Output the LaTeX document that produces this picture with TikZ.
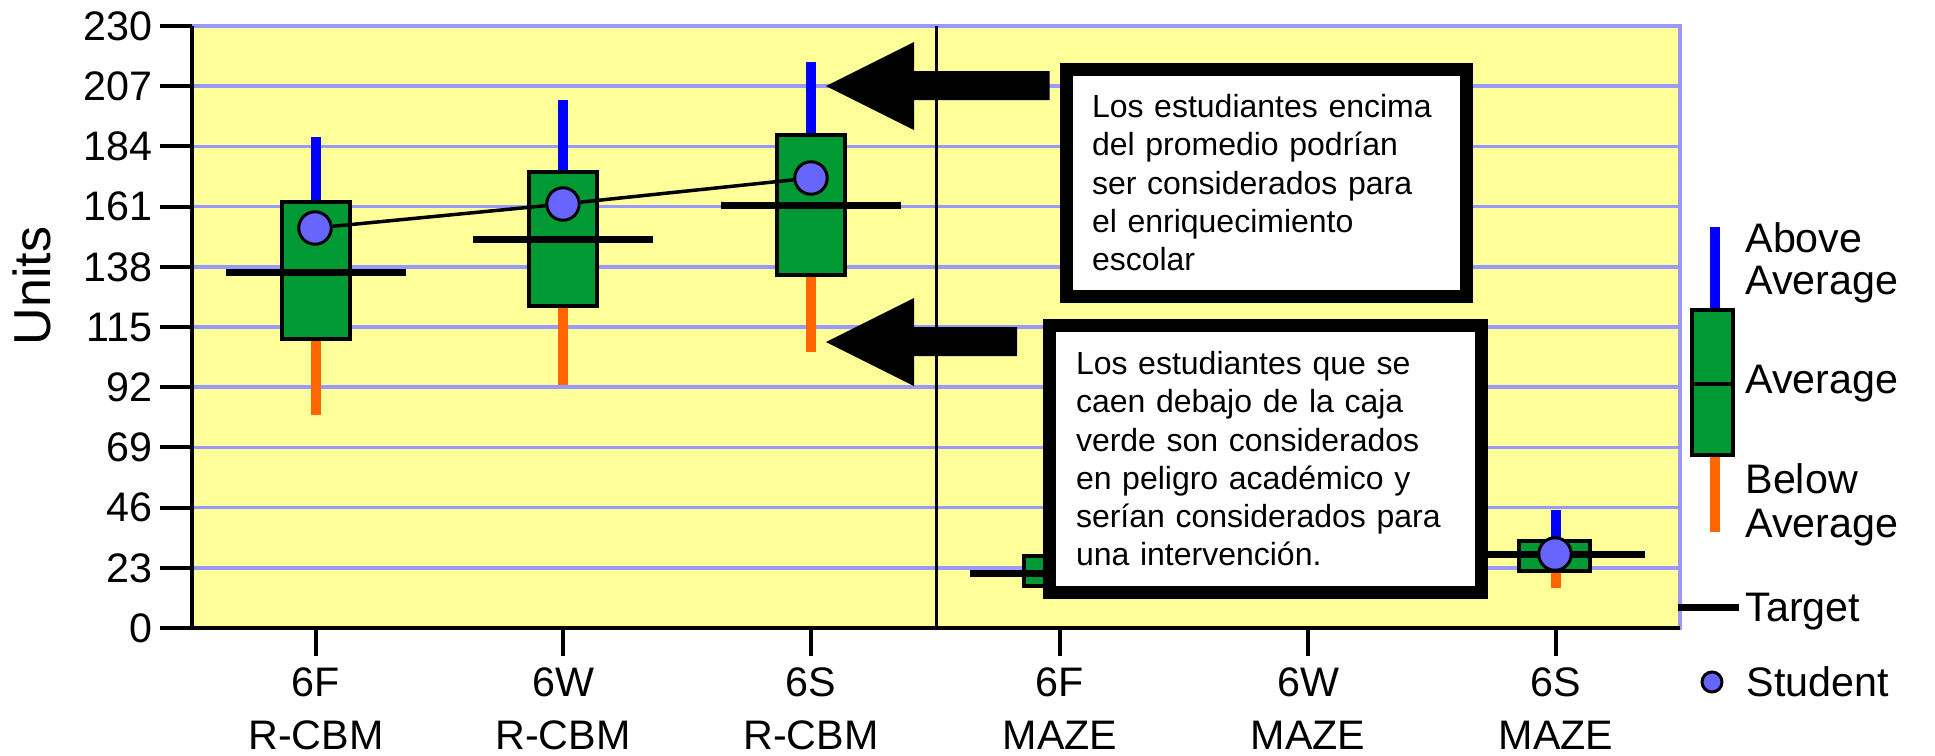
\documentclass[tikz,border=0pt]{standalone}
\usepackage{fontspec}
\setmainfont{Liberation Sans}
\usepackage{xcolor}
\usepackage{pgf,tikz}
\usetikzlibrary{shapes}
\tikzset{
  font={\fontsize{16.5pt}{21.2pt}\selectfont}}

\definecolor{plotbg}{RGB}{255,255,153}
\definecolor{gridblue}{RGB}{153,153,255}
\definecolor{boxgreen}{RGB}{0,153,51}
\definecolor{abovecol}{RGB}{0,0,255}
\definecolor{belowcol}{RGB}{255,102,0}
\definecolor{studentcol}{RGB}{102,102,255}

\begin{document}
\begin{tikzpicture}[x=0.4pt, y=-0.4pt]

    \tikzset{gridline/.style = {gridblue, line width=1.4pt}}
    \tikzset{axisline/.style = {black, line width=1.6pt}}
    \tikzset{abovebar/.style = {abovecol, line width=4pt}}
    \tikzset{belowbar/.style = {belowcol, line width=4pt}}
    \tikzset{avgbox/.style = {fill=boxgreen, draw=black, line width=1.6pt}}
    \tikzset{targetline/.style = {black, line width=2.8pt}}
    \tikzset{trend/.style = {black, line width=1.4pt}}
    \tikzset{student/.style = {circle, fill=studentcol, draw=black, line width=1.2pt, minimum size=13pt, inner sep=0pt}}
    \tikzset{note/.style = {draw=black, fill=white, line width=5.2pt, outer sep=0pt, anchor=north west, align=left,
      font={\fontsize{12.8pt}{15.3pt}\selectfont}}}
    \tikzset{label/.style = {inner sep=0pt}}

    \useasboundingbox (0,0) rectangle (1935,755);

    % plot area
    \fill[plotbg] (192,26) rectangle (1680,628);
    \foreach \k in {1,...,10} {
      \pgfmathsetmacro{\yy}{628-60.2*\k}
      \draw[gridline] (190,\yy) -- (1682,\yy);
    }
    \draw[gridblue, line width=1.6pt] (1680,24) -- (1680,630);
    \draw[black, line width=1.2pt] (936,26) -- (936,628);

    % 6F R-CBM
    \draw[abovebar] (316,137) -- (316,202);
    \draw[belowbar] (316,339) -- (316,415);
    \draw[avgbox] (282,202) rectangle (350,339);
    \draw[targetline] (226,272) -- (406,272);
    \node[student] (stuA) at (315,228) {};
    % 6W R-CBM
    \draw[abovebar] (563,100) -- (563,172);
    \draw[belowbar] (563,306) -- (563,385);
    \draw[avgbox] (529,172) rectangle (597,306);
    \draw[targetline] (473,239) -- (653,239);
    \node[student] (stuB) at (563,204) {};
    % 6S R-CBM
    \draw[abovebar] (811,62) -- (811,135);
    \draw[belowbar] (811,275) -- (811,352);
    \draw[avgbox] (777,135) rectangle (845,275);
    \draw[targetline] (721,205) -- (901,205);
    \node[student] (stuC) at (811,178) {};
    % 6F MAZE
    \draw[avgbox] (1024,556) rectangle (1096,586);
    \draw[targetline] (970,573) -- (1150,573);
    % 6S MAZE
    \draw[abovebar] (1556,510) -- (1556,541);
    \draw[belowbar] (1556,571) -- (1556,588);
    \draw[avgbox] (1519,541) rectangle (1590,571);
    \draw[targetline] (1466,554) -- (1645,554);
    \node[student] (stuD) at (1555,554) {};

    \draw[trend] (stuA) -- (stuB) -- (stuC);

    % axes
    \draw[axisline] (192,26) -- (192,628);
    \draw[axisline] (190,628) -- (1680,628);
    \foreach \k in {0,...,10} {
      \pgfmathsetmacro{\yy}{628-60.2*\k}
      \pgfmathtruncatemacro{\val}{23*\k}
      \draw[axisline] (160,\yy) -- (192,\yy);
      \node[label, anchor=east] (ylab\k) at (153,\yy) {\val};
    }
    \foreach \x/\wk/\meas [count=\i] in {316/6F/R-CBM, 563/6W/R-CBM, 811/6S/R-CBM,
                                       1060/6F/MAZE, 1308/6W/MAZE, 1556/6S/MAZE} {
      \draw[axisline] (\x,628) -- (\x,656);
      \node[label, anchor=north, align=center] (cat\i) at (\x,667) {\wk\\\meas};
    }
    \node[rotate=90, font={\fontsize{20.8pt}{24pt}\selectfont}] (units) at (32,286) {Units};

    % arrows
    \coordinate (tipA) at (826,86);
    \coordinate (tipB) at (826,342);
    \fill[black] (tipA) -- ++(88,-44) -- ++(0,29) -- ++(135.5,0) -- ++(0,29) -- ++(-135.5,0) -- ++(0,30) -- cycle;
    \fill[black] (tipB) -- ++(88,-44) -- ++(0,29) -- ++(103,0) -- ++(0,29) -- ++(-103,0) -- ++(0,30) -- cycle;

    % notes
    \node[note, text width=139.6pt, inner xsep=10.2pt, inner ysep=10pt] (noteA) at (1066.5,69.5)
      {Los estudiantes encima\\del promedio podrían\\ser considerados para\\el enriquecimiento\\escolar};
    \node[note, text width=151.6pt, inner xsep=10.6pt, inner ysep=10.4pt] (noteB) at (1049.5,325.5)
      {Los estudiantes que se\\caen debajo de la caja\\verde son considerados\\en peligro académico y\\serían considerados para\\una intervención.};

    % legend
    \draw[abovebar] (1714.5,227) -- (1714.5,309);
    \draw[belowbar] (1714.5,455) -- (1714.5,532);
    \draw[avgbox] (1692,309.5) rectangle (1733,455);
    \draw[black, line width=1.6pt] (1692,383.6) -- (1733,383.6);
    \draw[targetline] (1678,607) -- (1739,607);
    \node[student, minimum size=8pt] (stuLeg) at (1712,682) {};
    \node[label, anchor=north west, align=left, font={\fontsize{16.5pt}{16.8pt}\selectfont}] (legAbove) at (1745,222) {Above\\Average};
    \node[label, anchor=north west] (legAvg) at (1745,365) {Average};
    \node[label, anchor=north west, align=left, font={\fontsize{16.5pt}{17.6pt}\selectfont}] (legBelow) at (1745,463) {Below\\Average};
    \node[label, anchor=base west] (legTarget) at (1745,621.7) {Target};
    \node[label, anchor=base west] (legStudent) at (1746,696.7) {Student};

\end{tikzpicture}
\end{document}
